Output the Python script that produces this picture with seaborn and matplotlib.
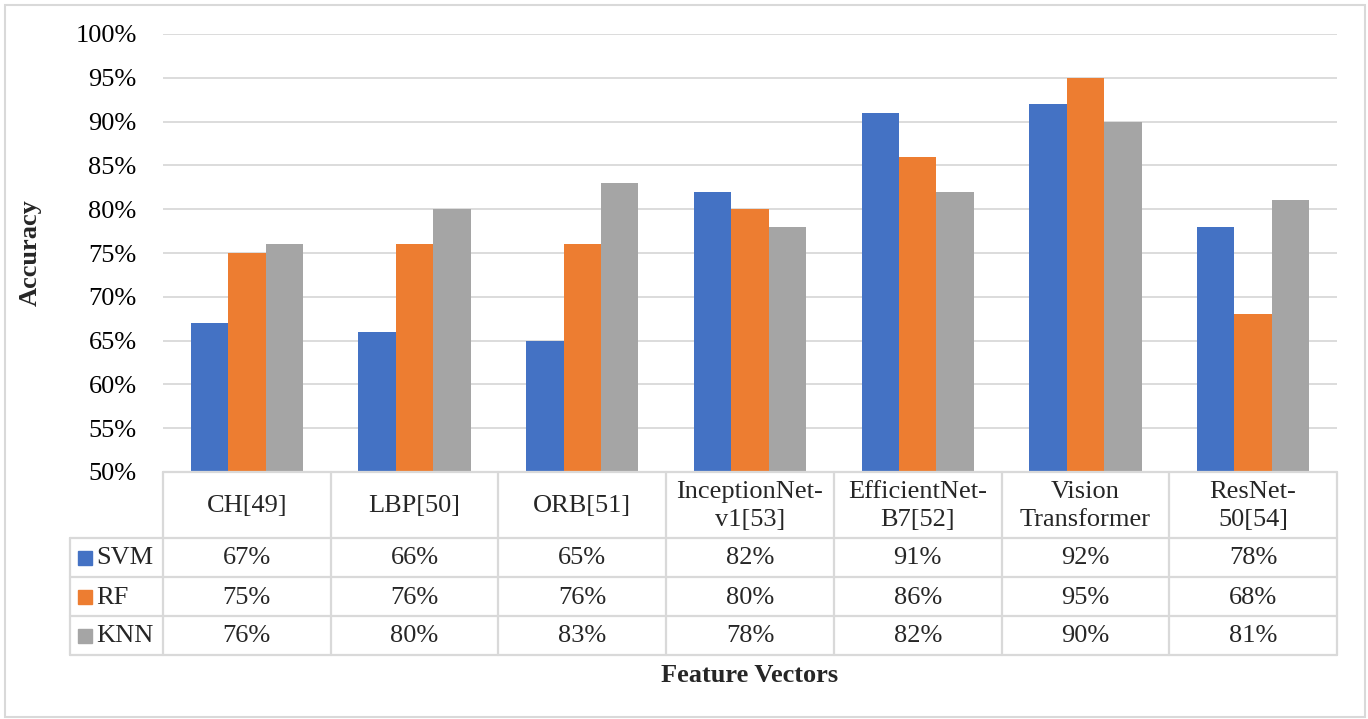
import matplotlib
matplotlib.use("Agg")
import matplotlib.pyplot as plt
import seaborn as sns
import pandas as pd
from matplotlib.patches import Rectangle
from matplotlib.lines import Line2D

features = ["CH[49]", "LBP[50]", "ORB[51]", "InceptionNet-\nv1[53]",
            "EfficientNet-\nB7[52]", "Vision\nTransformer", "ResNet-\n50[54]"]
models = ["SVM", "RF", "KNN"]
svm = [67, 66, 65, 82, 91, 92, 78]
rf = [75, 76, 76, 80, 86, 95, 68]
knn = [76, 80, 83, 78, 82, 90, 81]
yticks = [50, 55, 60, 65, 70, 75, 80, 85, 90, 95, 100]

colors = ["#4472C4", "#ED7D31", "#A5A5A5"]
grid_c = "#D9D9D9"

sns.set_theme(style="white")
plt.rcParams["font.family"] = ["Liberation Serif", "DejaVu Serif"]
FS = 19

W, H = 1368, 719
fig = plt.figure(figsize=(W / 100, H / 100), dpi=100)


def fx(x):
    return x / W


def fy(y):
    return 1 - y / H


left_px, right_px, top_px, base_px = 163, 1337, 34, 472
ax = fig.add_axes([fx(left_px), fy(base_px), fx(right_px) - fx(left_px), fy(top_px) - fy(base_px)])

values = {"SVM": svm, "RF": rf, "KNN": knn}
df = pd.DataFrame([
    {"feature": f, "model": m, "acc": values[m][i]}
    for i, f in enumerate(features) for m in models
])

sns.barplot(data=df, x="feature", y="acc", hue="model", palette=colors,
            hue_order=models, order=features, width=0.67, saturation=1,
            legend=False, ax=ax, linewidth=0, errorbar=None)

ax.set_ylim(50, 100)
ax.set_xlim(-0.5, len(features) - 0.5)
ax.set_yticks(yticks)
ax.set_yticklabels([f"{v}%" for v in yticks], fontsize=FS, color="#000000")
ax.tick_params(axis="y", length=0, pad=19)
ax.set_xticks([])
ax.set_xlabel("")
ax.set_ylabel("")
ax.yaxis.grid(True, color=grid_c, linewidth=1.3)
ax.set_axisbelow(True)
for s in ["top", "right", "left", "bottom"]:
    ax.spines[s].set_visible(False)

# data table under the plot
col_w = (right_px - left_px) / len(features)
row_edges = [472, 538, 577, 616, 655]
leg_left = 70
lw = 1.6


def hline(x0, x1, y):
    fig.add_artist(Line2D([fx(x0), fx(x1)], [fy(y), fy(y)], color=grid_c, lw=lw))


def vline(x, y0, y1):
    fig.add_artist(Line2D([fx(x), fx(x)], [fy(y0), fy(y1)], color=grid_c, lw=lw))


hline(left_px, right_px, row_edges[0])
for y in row_edges[1:]:
    hline(leg_left, right_px, y)
vline(leg_left, row_edges[1], row_edges[-1])
for i in range(len(features) + 1):
    vline(left_px + i * col_w, row_edges[0], row_edges[-1])

for i, f in enumerate(features):
    cx = left_px + (i + 0.5) * col_w
    fig.text(fx(cx), fy((row_edges[0] + row_edges[1]) / 2 + 1), f, ha="center", va="center",
             fontsize=FS, linespacing=1.3)
    for r, m in enumerate(models):
        cy = (row_edges[r + 1] + row_edges[r + 2]) / 2
        fig.text(fx(cx), fy(cy + 1), f"{values[m][i]}%", ha="center", va="center", fontsize=FS)

for r, m in enumerate(models):
    cy = (row_edges[r + 1] + row_edges[r + 2]) / 2
    fig.add_artist(Rectangle((fx(78), fy(cy + 7)), fx(14), fy(0) - fy(14),
                             color=colors[r], transform=fig.transFigure))
    fig.text(fx(96), fy(cy + 1), m, ha="left", va="center", fontsize=FS)

fig.text(fx(30), fy((top_px + base_px) / 2), "Accuracy", rotation=90, ha="center", va="center",
         fontsize=FS, fontweight="bold")
fig.text(fx((left_px + right_px) / 2), fy(676), "Feature Vectors", ha="center", va="center",
         fontsize=FS, fontweight="bold")

# chart frame
fig.add_artist(Rectangle((fx(5), fy(717)), fx(1360), fy(0) - fy(712), fill=False,
                         edgecolor=grid_c, lw=1.5, transform=fig.transFigure))

fig.savefig("out.png", dpi=100)
